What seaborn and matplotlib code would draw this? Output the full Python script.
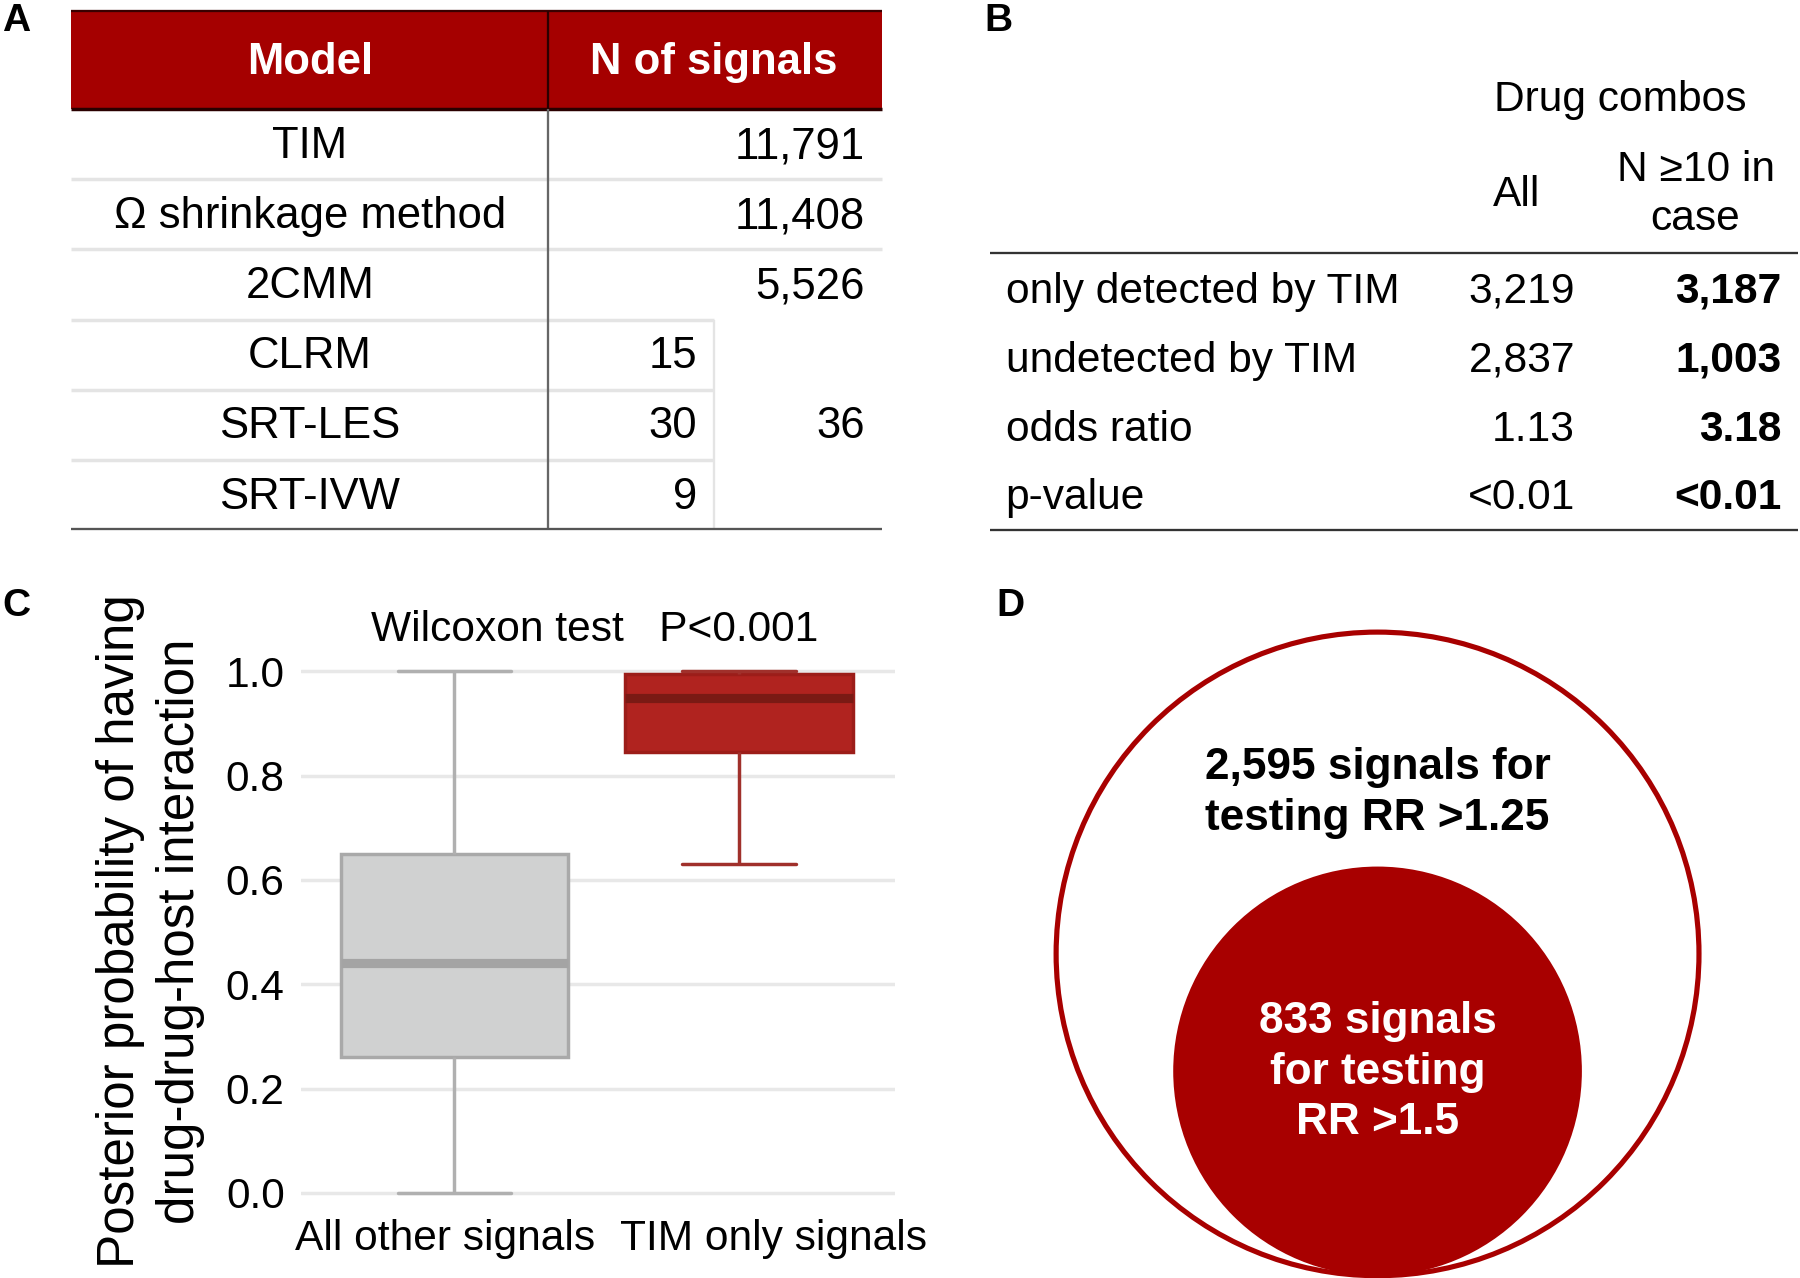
import matplotlib
matplotlib.use("Agg")
import matplotlib.pyplot as plt
from matplotlib.patches import Circle, Rectangle
from matplotlib.transforms import ScaledTranslation
import pandas as pd
import seaborn as sns

# ---------------- data ----------------
models = ["TIM", "Ω shrinkage method", "2CMM", "CLRM", "SRT-LES", "SRT-IVW"]
n_signals = ["11,791", "11,408", "5,526", "15", "30", "9"]
merged_total = "36"

b_header_top = "Drug combos"
b_cols = ["All", "N ≥10 in\ncase"]
b_rows = ["only detected by TIM", "undetected by TIM", "odds ratio", "p-value"]
b_all = ["3,219", "2,837", "1.13", "<0.01"]
b_n10 = ["3,187", "1,003", "3.18", "<0.01"]

groups = ["All other signals", "TIM only signals"]
other_vals = [0.0, 0.26, 0.44, 0.65, 1.0]     # min, Q1, median, Q3, max
tim_vals = [0.63, 0.845, 0.948, 0.995, 1.0]
c_title = "Wilcoxon test   P<0.001"
c_ylabel = "Posterior probability of having\ndrug-drug-host interaction"
y_ticks = [0.0, 0.2, 0.4, 0.6, 0.8, 1.0]

d_outer_n = "2,595"
d_inner_n = "833"
d_outer_txt = d_outer_n + " signals for\ntesting RR >1.25"
d_inner_txt = d_inner_n + " signals\nfor testing\nRR >1.5"

# ---------------- style ----------------
sns.set_theme(style="white")
plt.rcParams["font.family"] = ["Liberation Sans", "DejaVu Sans"]
for k in ["text.color", "axes.labelcolor", "xtick.color", "ytick.color"]:
    plt.rcParams[k] = "black"

W, H = 1568.0, 1112.0          # reference layout space
S = 1800.0 / W
F = S * 0.72                   # ref px -> points

RED = "#a50000"
DARK = "#333333"
LIGHT = "#e4e4e4"

fig = plt.figure(figsize=(18, 12.78), dpi=100)
ov = fig.add_axes([0, 0, 1, 1])
ov.set_xlim(0, W)
ov.set_ylim(H, 0)
ov.axis("off")

def txt(x, y, s, size, **kw):
    kw.setdefault("ha", "center")
    kw.setdefault("va", "center")
    kw.setdefault("color", "black")
    ov.text(x, y, s, fontsize=size * F, **kw)

def hline(y, x0, x1, color, lw):
    ov.plot([x0, x1], [y, y], color=color, lw=lw * F, solid_capstyle="butt")

def vline(x, y0, y1, color, lw):
    ov.plot([x, x], [y0, y1], color=color, lw=lw * F, solid_capstyle="butt")

# panel letters
for lab, (x, y) in {"A": (14, 18), "B": (870, 18), "C": (14, 527), "D": (880, 527)}.items():
    txt(x, y, lab, 34, fontweight="bold")

# ---------------- panel A ----------------
ax0, ax1, xdiv, xsub = 62, 768, 477, 622
ov.add_patch(Rectangle((ax0, 10), ax1 - ax0, 85, facecolor=RED, edgecolor="none"))
hline(10, ax0, ax1, "#3a0000", 2)
hline(95, ax0, ax1, "#2a0000", 3)
txt(270, 54, "Model", 38, color="white", fontweight="bold")
txt(622, 54, "N of signals", 38, color="white", fontweight="bold")

row_top = 95
row_h = 61
centers = [row_top + row_h * (i + 0.5) for i in range(len(models))]
for i, (m, n) in enumerate(zip(models, n_signals)):
    yc = centers[i] + 2
    txt(270, yc, m, 38)
    if i < 3:
        txt(753, yc, n, 38, ha="right")
    else:
        txt(607, yc, n, 38, ha="right")
    if i < len(models) - 1:
        ysep = row_top + row_h * (i + 1)
        hline(ysep, ax0, ax1 if i < 2 else xsub, LIGHT, 3)
txt(753, centers[4] + 2, merged_total, 38, ha="right")
vline(xsub, row_top + 3 * row_h, 460, LIGHT, 2)
vline(xdiv, 10, 95, "#2a0000", 2)
vline(xdiv, 95, 460, "#666666", 2)
hline(460, ax0, ax1, "#555555", 2)

# ---------------- panel B ----------------
txt(1411, 87, b_header_top, 37)
txt(1321, 170, b_cols[0], 37)
txt(1477, 169, b_cols[1], 37, linespacing=1.28)
hline(220, 862, 1566, DARK, 2)
b_y = [254, 314, 374, 433]
for lab, a, n, y in zip(b_rows, b_all, b_n10, b_y):
    txt(876, y, lab, 37, ha="left")
    txt(1372, y, a, 37, ha="right")
    txt(1552, y, n, 37, ha="right", fontweight="bold")
hline(461, 862, 1566, DARK, 2)

# ---------------- panel C (seaborn boxplot) ----------------
cx0, cx1, cy0, cy1 = 262, 780, 575, 1047
axC = fig.add_axes([cx0 / W, 1 - cy1 / H, (cx1 - cx0) / W, (cy1 - cy0) / H])
dfC = pd.DataFrame({
    "group": [groups[0]] * len(other_vals) + [groups[1]] * len(tim_vals),
    "value": other_vals + tim_vals,
})
styles = {
    groups[0]: dict(face="#d0d1d1", edge="#a9a9a9", med="#a4a4a4", wh="#b0b0b0"),
    groups[1]: dict(face="#b0231f", edge="#9c1d19", med="#7a1a14", wh="#a0302b"),
}
for g in groups:
    st = styles[g]
    sns.boxplot(
        data=dfC[dfC["group"] == g], x="group", y="value", order=groups,
        color=st["face"], linecolor=st["edge"], saturation=1, width=0.8,
        linewidth=3 * F, showfliers=False, ax=axC,
        medianprops=dict(color=st["med"], linewidth=8 * F),
        whiskerprops=dict(color=st["wh"], linewidth=3 * F),
        capprops=dict(color=st["wh"], linewidth=3 * F),
    )
axC.set_xlim(-0.54, 1.55)
axC.set_ylim(-0.02, 1.02)
axC.set_yticks(y_ticks)
axC.set_yticklabels([f"{t:.1f}" for t in y_ticks])
axC.yaxis.grid(True, color="#e8e8e8", lw=3 * F)
axC.xaxis.grid(False)
axC.set_axisbelow(True)
for sp in axC.spines.values():
    sp.set_visible(False)
axC.tick_params(axis="both", length=0, labelsize=37 * F, colors="black")
axC.tick_params(axis="y", pad=14 * F)
axC.tick_params(axis="x", pad=14 * F)
axC.set_xlabel("")
# nudge category labels apart as in the reference
for lbl, dx in zip(axC.get_xticklabels(), [-8, 30]):
    lbl.set_transform(lbl.get_transform() + ScaledTranslation(dx * S / 100.0, 0, fig.dpi_scale_trans))
axC.set_ylabel(c_ylabel, fontsize=44.5 * F, linespacing=1.3, va="center", color="black")
axC.yaxis.set_label_coords(-0.253, 0.502)
axC.patch.set_alpha(0)
txt(518, 548, c_title, 37)

# ---------------- panel D ----------------
ov.add_patch(Circle((1200, 830), 280, facecolor="none", edgecolor="#a80000", lw=4.5 * F))
ov.add_patch(Circle((1200, 932), 178, facecolor="#a80000", edgecolor="none"))
txt(1200, 690, d_outer_txt, 38.5, fontweight="bold", linespacing=1.3)
txt(1200, 933, d_inner_txt, 38.5, fontweight="bold", color="white", linespacing=1.3)

fig.savefig("out.png", dpi=100, facecolor="white")
